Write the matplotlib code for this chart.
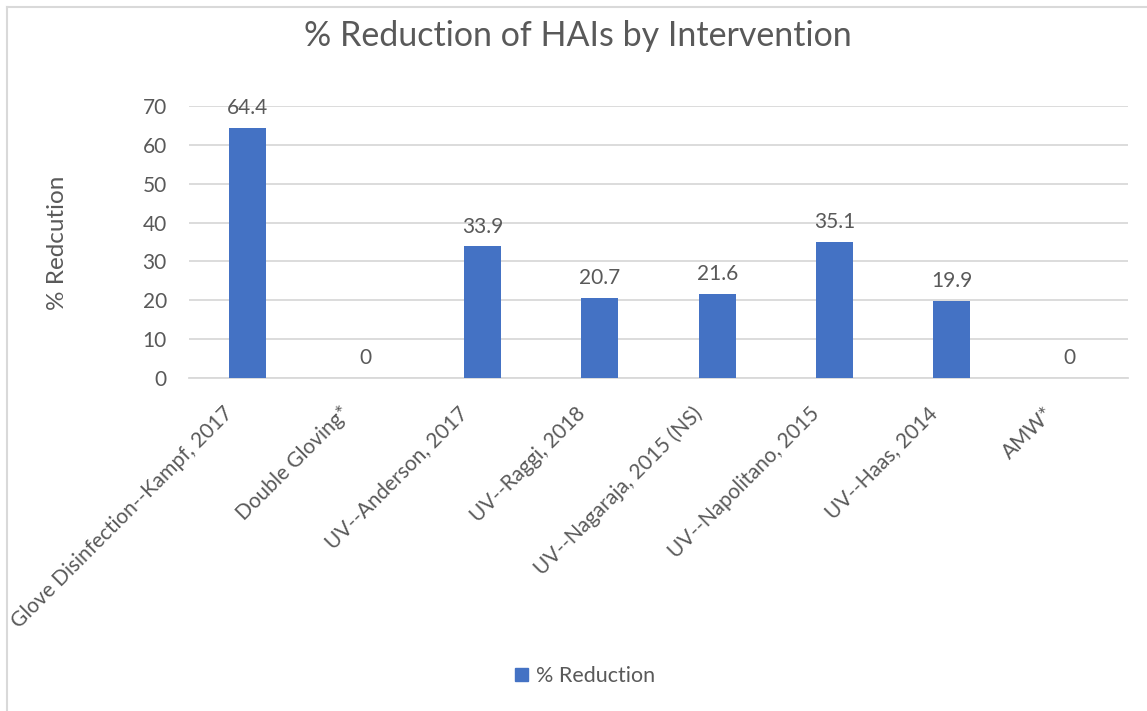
import matplotlib
matplotlib.use("Agg")
import matplotlib.pyplot as plt
import matplotlib.transforms as mtransforms
from matplotlib.lines import Line2D
from matplotlib.patches import Patch

categories = ["Glove Disinfection--Kampf, 2017", "Double Gloving*", "UV--Anderson, 2017",
              "UV--Raggi, 2018", "UV--Nagaraja, 2015 (NS)", "UV--Napolitano, 2015",
              "UV--Haas, 2014", "AMW*"]
values = [64.4, 0, 33.9, 20.7, 21.6, 35.1, 19.9, 0]
value_labels = ["64.4", "0", "33.9", "20.7", "21.6", "35.1", "19.9", "0"]
yticks = [0, 10, 20, 30, 40, 50, 60, 70]
title = "% Reduction of HAIs by Intervention"
ylabel = "% Redcution"
series_name = "% Reduction"

BAR = "#4472C4"
TXT = "#595959"
GRID = "#D9D9D9"
plt.rcParams['font.family'] = ['Lato', 'DejaVu Sans']
FS = 15

W, H = 1147, 711
fig = plt.figure(figsize=(W / 100, H / 100), dpi=100)
ax = fig.add_axes([189 / W, 1 - 378 / H, (1128 - 189) / W, (378 - 106) / H])

x = list(range(len(categories)))
ax.bar(x, values, width=0.315, color=BAR, zorder=3)
ax.set_xlim(-0.5, len(categories) - 0.5)
ax.set_ylim(0, 70)
ax.set_yticks(yticks)
ax.set_yticklabels([str(t) for t in yticks], fontsize=FS, color=TXT)
ax.yaxis.grid(True, color=GRID, linewidth=1.3, zorder=0)
ax.set_axisbelow(True)
for s in ["top", "right", "left"]:
    ax.spines[s].set_visible(False)
ax.spines["bottom"].set_color(GRID)
ax.spines["bottom"].set_linewidth(1.3)
ax.tick_params(axis="y", length=0, pad=16)
ax.tick_params(axis="x", length=0, pad=8)
ax.set_xticks(x)
ax.set_xticklabels(categories, rotation=45, ha="right", va="center",
                   rotation_mode="anchor", fontsize=FS, color=TXT)
shift = mtransforms.ScaledTranslation(-18 / 100, -21 / 100, fig.dpi_scale_trans)
for lbl in ax.get_xticklabels():
    lbl.set_transform(lbl.get_transform() + shift)

for xi, v, lab in zip(x, values, value_labels):
    ax.annotate(lab, (xi, v), xytext=(0, 7), textcoords="offset points",
                ha="center", va="bottom", fontsize=FS, color=TXT)

fig.text(578 / W, 1 - 36 / H, title, ha="center", va="center", fontsize=24.5, color=TXT)
fig.text(57 / W, 1 - 243 / H, ylabel, ha="center", va="center", rotation=90,
         fontsize=17.5, color=TXT)

leg = fig.legend(handles=[Patch(facecolor=BAR, edgecolor=BAR, label=series_name)],
                 loc="center", bbox_to_anchor=(585 / W, 1 - 676 / H), frameon=False,
                 fontsize=15.5, handlelength=0.6, handleheight=0.6, handletextpad=0.35)
for t in leg.get_texts():
    t.set_color(TXT)

# chart border
fig.add_artist(Line2D([7 / W, 7 / W], [0, 1 - 7 / H], color="#D9D9D9", linewidth=1.5,
                      transform=fig.transFigure))
fig.add_artist(Line2D([7 / W, 1], [1 - 7 / H, 1 - 7 / H], color="#D9D9D9", linewidth=1.5,
                      transform=fig.transFigure))

fig.savefig("out.png", dpi=100, facecolor="white")
